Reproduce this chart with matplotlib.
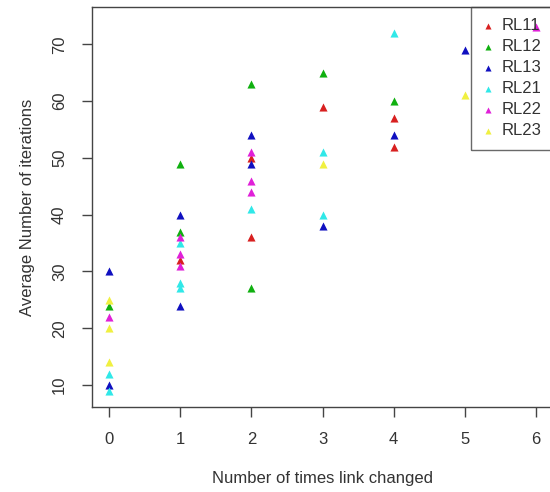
import matplotlib
matplotlib.use("Agg")
import matplotlib.pyplot as plt

plt.rcParams['font.family'] = ['Liberation Sans', 'DejaVu Sans']

series = ["RL11", "RL12", "RL13", "RL21", "RL22", "RL23"]
colors = ["#d82020", "#10b010", "#1010c0", "#30e8e8", "#e020d8", "#f0f040"]

rl11_x = [1, 2, 2, 3, 4, 4]
rl11_y = [32, 50, 36, 59, 57, 52]
rl12_x = [0, 1, 1, 2, 2, 3, 4]
rl12_y = [24, 49, 37, 63, 27, 65, 60]
rl13_x = [0, 0, 1, 1, 2, 2, 3, 4, 5]
rl13_y = [30, 10, 40, 24, 54, 49, 38, 54, 69]
rl21_x = [0, 0, 1, 1, 1, 2, 3, 3, 4]
rl21_y = [12, 9, 35, 28, 27, 41, 51, 40, 72]
rl22_x = [0, 1, 1, 1, 2, 2, 2, 6]
rl22_y = [22, 36, 33, 31, 51, 46, 44, 73]
rl23_x = [0, 0, 0, 3, 5]
rl23_y = [25, 20, 14, 49, 61]

xs = [rl11_x, rl12_x, rl13_x, rl21_x, rl22_x, rl23_x]
ys = [rl11_y, rl12_y, rl13_y, rl21_y, rl22_y, rl23_y]

x_ticks = [0, 1, 2, 3, 4, 5, 6]
y_ticks = [10, 20, 30, 40, 50, 60, 70]

W, H = 550, 492
fig = plt.figure(figsize=(W / 100, H / 100), dpi=100)
ax = fig.add_axes([92 / W, 1 - 407 / H, (553 - 92) / W, (407 - 7) / H])

for sx, sy, c, name in zip(xs, ys, colors, series):
    ax.scatter(sx, sy, marker='^', s=34, color=c, linewidths=0, label=name, zorder=3)

ax.set_xlim(-0.24, 6.24)
ax.set_ylim(6.13, 76.57)
ax.set_xticks(x_ticks)
ax.set_yticks(y_ticks)
ax.set_xticklabels([str(v) for v in x_ticks], fontsize=12, color='#333333')
ax.set_yticklabels([str(v) for v in y_ticks], fontsize=12, color='#333333',
                   rotation=90, va='center')
ax.tick_params(axis='both', direction='out', length=7, width=1, color='#444444')
ax.tick_params(axis='x', pad=11)
ax.tick_params(axis='y', pad=11)
for s in ax.spines.values():
    s.set_color('#444444')
    s.set_linewidth(1)

ax.set_xlabel("Number of times link changed", fontsize=12, color='#333333', labelpad=17)
ax.set_ylabel("Average Number of iterations", fontsize=12, color='#333333', labelpad=12)

leg = ax.legend(loc='upper right', bbox_to_anchor=(1, 1), borderaxespad=0,
                fontsize=12, frameon=True, fancybox=False,
                facecolor='none', edgecolor='#444444', handlelength=0.6,
                handletextpad=0.55, borderpad=0.68, labelspacing=0.36,
                scatterpoints=1, markerscale=0.75)
leg.get_frame().set_linewidth(1)
for t in leg.get_texts():
    t.set_color('#333333')

fig.savefig("out.png", dpi=100)
